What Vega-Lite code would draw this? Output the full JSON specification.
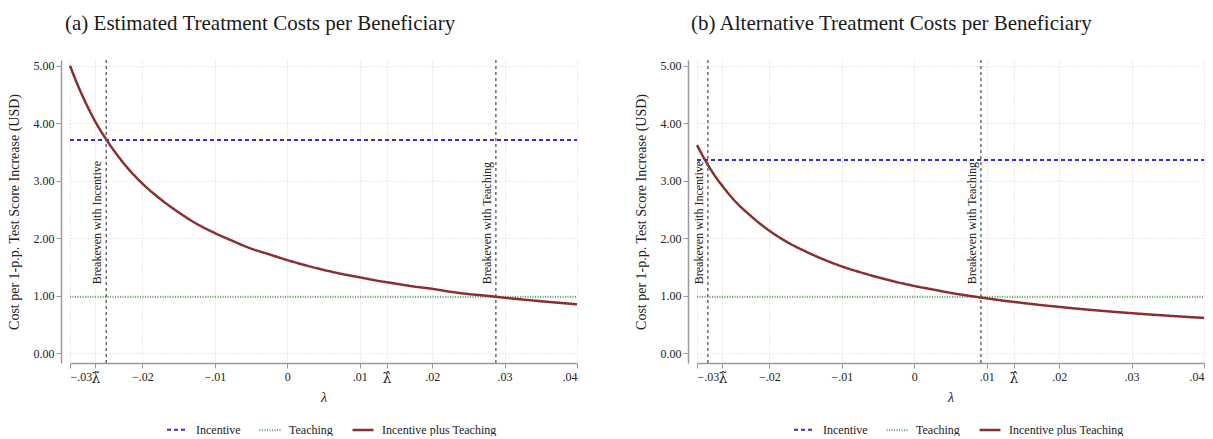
{
  "$schema": "https://vega.github.io/schema/vega-lite/v6.json",
  "background": "white",
  "padding": {"left": 7, "top": 13, "right": 0, "bottom": 0},
  "config": {
    "font": "Liberation Serif",
    "view": {"stroke": null},
    "title": {"font": "Liberation Serif", "fontSize": 21, "fontWeight": "normal", "color": "#1a1a1a"},
    "axis": {
      "labelFont": "Liberation Serif", "titleFont": "Liberation Serif",
      "labelFontSize": 12, "titleFontSize": 14, "titleFontWeight": "normal",
      "labelColor": "#222", "titleColor": "#222",
      "domainColor": "#9a9a9a", "tickColor": "#9a9a9a", "domainWidth": 1.5,
      "gridColor": "#d4d4d4", "gridDash": [1, 2], "gridWidth": 1,
      "labelOverlap": false
    },
    "legend": {
      "labelFont": "Liberation Serif", "labelFontSize": 12, "labelColor": "#222",
      "symbolType": "stroke", "symbolSize": 440, "columnPadding": 14, "labelOffset": 7
    },
    "concat": {"spacing": 52}
  },
  "datasets": {
    "seriesA": [
      {"lambda": -0.03, "cost": 3.71, "series": "Incentive"},
      {"lambda": 0.04, "cost": 3.71, "series": "Incentive"},
      {"lambda": -0.03, "cost": 0.98, "series": "Teaching"},
      {"lambda": 0.04, "cost": 0.98, "series": "Teaching"},
      {"lambda": -0.03, "cost": 5.0, "series": "Incentive plus Teaching"},
      {"lambda": -0.02875, "cost": 4.61, "series": "Incentive plus Teaching"},
      {"lambda": -0.0275, "cost": 4.27, "series": "Incentive plus Teaching"},
      {"lambda": -0.02625, "cost": 3.97, "series": "Incentive plus Teaching"},
      {"lambda": -0.025, "cost": 3.72, "series": "Incentive plus Teaching"},
      {"lambda": -0.0225, "cost": 3.29, "series": "Incentive plus Teaching"},
      {"lambda": -0.02, "cost": 2.95, "series": "Incentive plus Teaching"},
      {"lambda": -0.0175, "cost": 2.68, "series": "Incentive plus Teaching"},
      {"lambda": -0.015, "cost": 2.45, "series": "Incentive plus Teaching"},
      {"lambda": -0.0125, "cost": 2.25, "series": "Incentive plus Teaching"},
      {"lambda": -0.01, "cost": 2.09, "series": "Incentive plus Teaching"},
      {"lambda": -0.0075, "cost": 1.95, "series": "Incentive plus Teaching"},
      {"lambda": -0.005, "cost": 1.82, "series": "Incentive plus Teaching"},
      {"lambda": -0.0025, "cost": 1.72, "series": "Incentive plus Teaching"},
      {"lambda": 0.0, "cost": 1.62, "series": "Incentive plus Teaching"},
      {"lambda": 0.0025, "cost": 1.53, "series": "Incentive plus Teaching"},
      {"lambda": 0.005, "cost": 1.45, "series": "Incentive plus Teaching"},
      {"lambda": 0.0075, "cost": 1.38, "series": "Incentive plus Teaching"},
      {"lambda": 0.01, "cost": 1.32, "series": "Incentive plus Teaching"},
      {"lambda": 0.0125, "cost": 1.26, "series": "Incentive plus Teaching"},
      {"lambda": 0.015, "cost": 1.21, "series": "Incentive plus Teaching"},
      {"lambda": 0.0175, "cost": 1.16, "series": "Incentive plus Teaching"},
      {"lambda": 0.02, "cost": 1.12, "series": "Incentive plus Teaching"},
      {"lambda": 0.0225, "cost": 1.07, "series": "Incentive plus Teaching"},
      {"lambda": 0.025, "cost": 1.03, "series": "Incentive plus Teaching"},
      {"lambda": 0.0275, "cost": 1.0, "series": "Incentive plus Teaching"},
      {"lambda": 0.03, "cost": 0.965, "series": "Incentive plus Teaching"},
      {"lambda": 0.0325, "cost": 0.934, "series": "Incentive plus Teaching"},
      {"lambda": 0.035, "cost": 0.904, "series": "Incentive plus Teaching"},
      {"lambda": 0.0375, "cost": 0.877, "series": "Incentive plus Teaching"},
      {"lambda": 0.04, "cost": 0.851, "series": "Incentive plus Teaching"}
    ],
    "seriesB": [
      {"lambda": -0.03, "cost": 3.36, "series": "Incentive"},
      {"lambda": 0.04, "cost": 3.36, "series": "Incentive"},
      {"lambda": -0.03, "cost": 0.98, "series": "Teaching"},
      {"lambda": 0.04, "cost": 0.98, "series": "Teaching"},
      {"lambda": -0.03, "cost": 3.62, "series": "Incentive plus Teaching"},
      {"lambda": -0.02875, "cost": 3.33, "series": "Incentive plus Teaching"},
      {"lambda": -0.0275, "cost": 3.08, "series": "Incentive plus Teaching"},
      {"lambda": -0.02625, "cost": 2.87, "series": "Incentive plus Teaching"},
      {"lambda": -0.025, "cost": 2.68, "series": "Incentive plus Teaching"},
      {"lambda": -0.0225, "cost": 2.38, "series": "Incentive plus Teaching"},
      {"lambda": -0.02, "cost": 2.13, "series": "Incentive plus Teaching"},
      {"lambda": -0.0175, "cost": 1.93, "series": "Incentive plus Teaching"},
      {"lambda": -0.015, "cost": 1.77, "series": "Incentive plus Teaching"},
      {"lambda": -0.0125, "cost": 1.63, "series": "Incentive plus Teaching"},
      {"lambda": -0.01, "cost": 1.51, "series": "Incentive plus Teaching"},
      {"lambda": -0.0075, "cost": 1.41, "series": "Incentive plus Teaching"},
      {"lambda": -0.005, "cost": 1.32, "series": "Incentive plus Teaching"},
      {"lambda": -0.0025, "cost": 1.24, "series": "Incentive plus Teaching"},
      {"lambda": 0.0, "cost": 1.17, "series": "Incentive plus Teaching"},
      {"lambda": 0.0025, "cost": 1.11, "series": "Incentive plus Teaching"},
      {"lambda": 0.005, "cost": 1.05, "series": "Incentive plus Teaching"},
      {"lambda": 0.0075, "cost": 1.0, "series": "Incentive plus Teaching"},
      {"lambda": 0.01, "cost": 0.954, "series": "Incentive plus Teaching"},
      {"lambda": 0.0125, "cost": 0.912, "series": "Incentive plus Teaching"},
      {"lambda": 0.015, "cost": 0.874, "series": "Incentive plus Teaching"},
      {"lambda": 0.0175, "cost": 0.838, "series": "Incentive plus Teaching"},
      {"lambda": 0.02, "cost": 0.806, "series": "Incentive plus Teaching"},
      {"lambda": 0.0225, "cost": 0.775, "series": "Incentive plus Teaching"},
      {"lambda": 0.025, "cost": 0.747, "series": "Incentive plus Teaching"},
      {"lambda": 0.0275, "cost": 0.721, "series": "Incentive plus Teaching"},
      {"lambda": 0.03, "cost": 0.697, "series": "Incentive plus Teaching"},
      {"lambda": 0.0325, "cost": 0.674, "series": "Incentive plus Teaching"},
      {"lambda": 0.035, "cost": 0.653, "series": "Incentive plus Teaching"},
      {"lambda": 0.0375, "cost": 0.633, "series": "Incentive plus Teaching"},
      {"lambda": 0.04, "cost": 0.614, "series": "Incentive plus Teaching"}
    ],
    "breakA": [
      {"lambda": -0.025, "label": "Breakeven with Incentive"},
      {"lambda": 0.0288, "label": "Breakeven with Teaching"}
    ],
    "breakB": [
      {"lambda": -0.0285, "label": "Breakeven with Incentive"},
      {"lambda": 0.0092, "label": "Breakeven with Teaching"}
    ]
  },
  "resolve": {
    "scale": {"x": "independent", "y": "independent", "color": "independent", "strokeDash": "independent", "strokeWidth": "independent"},
    "legend": {"color": "independent", "strokeDash": "independent", "strokeWidth": "independent"}
  },
  "hconcat": [
    {
      "width": 507, "height": 303,
      "title": {"text": "(a) Estimated Treatment Costs per Beneficiary", "anchor": "start", "frame": "group", "dx": -5, "offset": 25},
      "layer": [
        {
          "data": {"name": "seriesA"},
          "mark": {"type": "line", "interpolate": "monotone"},
          "encoding": {
            "x": {"field": "lambda", "type": "quantitative",
              "scale": {"domain": [-0.03, 0.04], "nice": false, "zero": false},
              "axis": {"title": "\u03bb", "titleFontStyle": "italic", "titlePadding": 5,
                "values": [-0.03, -0.0265, -0.02, -0.01, 0, 0.01, 0.0137, 0.02, 0.03, 0.04],
                "labelExpr": "abs(datum.value+0.0265)<1e-6 ? '\u03bb\u0303' : abs(datum.value-0.0137)<1e-6 ? '\u03bb\u0302' : datum.value == 0 ? '0' : replace(format(datum.value, '.2f'), '0.', '.')",
                "labelFontSize": {"condition": {"test": "abs(datum.value+0.0265)<1e-6 || abs(datum.value-0.0137)<1e-6", "value": 14}, "value": 12},
                "labelFont": {"condition": {"test": "abs(datum.value+0.0265)<1e-6 || abs(datum.value-0.0137)<1e-6", "value": "DejaVu Serif"}, "value": "Liberation Serif"},
                "tickSize": 5, "labelPadding": 3, "grid": true}},
            "y": {"field": "cost", "type": "quantitative",
              "scale": {"domain": [-0.17, 5.1], "nice": false, "zero": false},
              "axis": {"title": "Cost per 1-p.p. Test Score Increase (USD)", "values": [0, 1, 2, 3, 4, 5], "format": ".2f",
                "offset": 9, "tickSize": 5, "labelPadding": 2, "titlePadding": 12, "grid": true, "domain": true}},
            "color": {"field": "series", "type": "nominal",
              "scale": {"domain": ["Incentive", "Teaching", "Incentive plus Teaching"], "range": ["#2f2fd0", "#6fa86f", "#8a2f2f"]},
              "legend": {"title": null, "orient": "none", "direction": "horizontal", "legendX": 96, "legendY": 358}},
            "strokeDash": {"field": "series", "type": "nominal",
              "scale": {"domain": ["Incentive", "Teaching", "Incentive plus Teaching"], "range": [[4, 3], [1, 1.5], [1, 0]]},
              "legend": {"title": null, "orient": "none", "direction": "horizontal", "legendX": 96, "legendY": 358}},
            "strokeWidth": {"field": "series", "type": "nominal",
              "scale": {"domain": ["Incentive", "Teaching", "Incentive plus Teaching"], "range": [2, 2.5, 1.1]},
              "legend": {"title": null, "orient": "none", "direction": "horizontal", "legendX": 96, "legendY": 358}}
          }
        },
        {
          "data": {"name": "breakA"},
          "mark": {"type": "rule", "color": "#555555", "strokeDash": [3, 3], "strokeWidth": 1.3},
          "encoding": {"x": {"field": "lambda", "type": "quantitative"}}
        },
        {
          "data": {"name": "breakA"},
          "mark": {"type": "text", "angle": 270, "align": "left", "baseline": "bottom", "dy": -2, "fontSize": 12, "font": "Liberation Serif", "color": "#222"},
          "encoding": {"x": {"field": "lambda", "type": "quantitative"}, "y": {"datum": 1.2}, "text": {"field": "label"}}
        }
      ]
    },
    {
      "width": 507, "height": 303,
      "title": {"text": "(b) Alternative Treatment Costs per Beneficiary", "anchor": "start", "frame": "group", "dx": -6, "offset": 25},
      "layer": [
        {
          "data": {"name": "seriesB"},
          "mark": {"type": "line", "interpolate": "monotone"},
          "encoding": {
            "x": {"field": "lambda", "type": "quantitative",
              "scale": {"domain": [-0.03, 0.04], "nice": false, "zero": false},
              "axis": {"title": "\u03bb", "titleFontStyle": "italic", "titlePadding": 5,
                "values": [-0.03, -0.0265, -0.02, -0.01, 0, 0.01, 0.0137, 0.02, 0.03, 0.04],
                "labelExpr": "abs(datum.value+0.0265)<1e-6 ? '\u03bb\u0303' : abs(datum.value-0.0137)<1e-6 ? '\u03bb\u0302' : datum.value == 0 ? '0' : replace(format(datum.value, '.2f'), '0.', '.')",
                "labelFontSize": {"condition": {"test": "abs(datum.value+0.0265)<1e-6 || abs(datum.value-0.0137)<1e-6", "value": 14}, "value": 12},
                "labelFont": {"condition": {"test": "abs(datum.value+0.0265)<1e-6 || abs(datum.value-0.0137)<1e-6", "value": "DejaVu Serif"}, "value": "Liberation Serif"},
                "tickSize": 5, "labelPadding": 3, "grid": true}},
            "y": {"field": "cost", "type": "quantitative",
              "scale": {"domain": [-0.17, 5.1], "nice": false, "zero": false},
              "axis": {"title": "Cost per 1-p.p. Test Score Increase (USD)", "values": [0, 1, 2, 3, 4, 5], "format": ".2f",
                "offset": 9, "tickSize": 5, "labelPadding": 2, "titlePadding": 12, "grid": true, "domain": true}},
            "color": {"field": "series", "type": "nominal",
              "scale": {"domain": ["Incentive", "Teaching", "Incentive plus Teaching"], "range": ["#2f2fd0", "#6fa86f", "#8a2f2f"]},
              "legend": {"title": null, "orient": "none", "direction": "horizontal", "legendX": 96, "legendY": 358}},
            "strokeDash": {"field": "series", "type": "nominal",
              "scale": {"domain": ["Incentive", "Teaching", "Incentive plus Teaching"], "range": [[4, 3], [1, 1.5], [1, 0]]},
              "legend": {"title": null, "orient": "none", "direction": "horizontal", "legendX": 96, "legendY": 358}},
            "strokeWidth": {"field": "series", "type": "nominal",
              "scale": {"domain": ["Incentive", "Teaching", "Incentive plus Teaching"], "range": [2, 2.5, 1.1]},
              "legend": {"title": null, "orient": "none", "direction": "horizontal", "legendX": 96, "legendY": 358}}
          }
        },
        {
          "data": {"name": "breakB"},
          "mark": {"type": "rule", "color": "#555555", "strokeDash": [3, 3], "strokeWidth": 1.3},
          "encoding": {"x": {"field": "lambda", "type": "quantitative"}}
        },
        {
          "data": {"name": "breakB"},
          "mark": {"type": "text", "angle": 270, "align": "left", "baseline": "bottom", "dy": -2, "fontSize": 12, "font": "Liberation Serif", "color": "#222"},
          "encoding": {"x": {"field": "lambda", "type": "quantitative"}, "y": {"datum": 1.2}, "text": {"field": "label"}}
        }
      ]
    }
  ]
}
